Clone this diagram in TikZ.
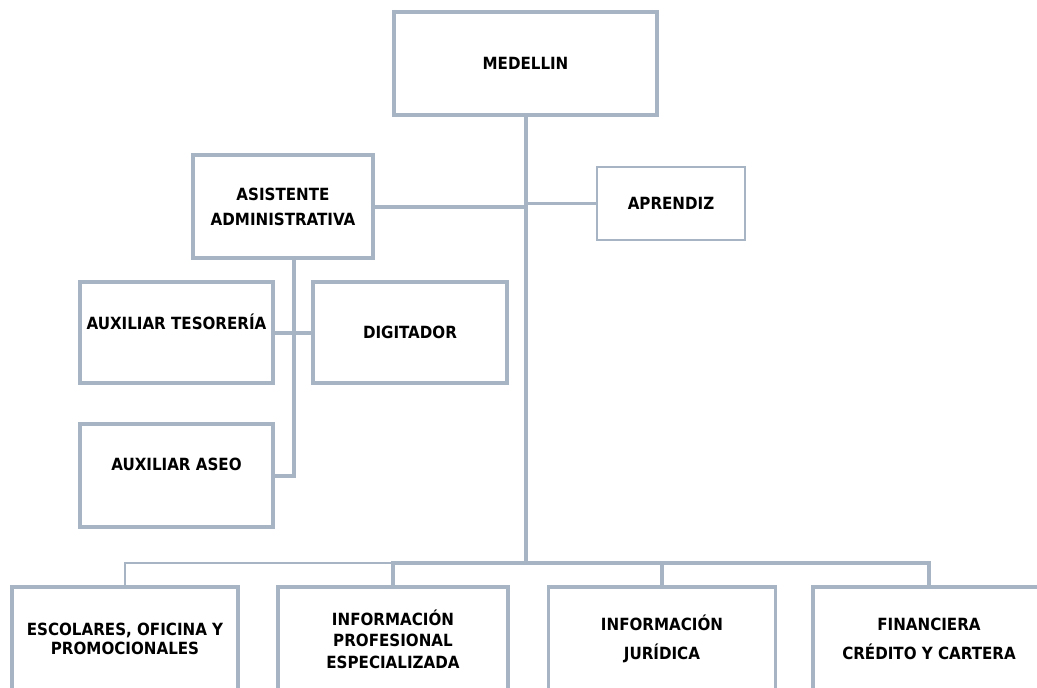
\documentclass[tikz,border=0pt]{standalone}
\usepackage{fontspec}
\setmainfont{DejaVu Sans Condensed}
\usetikzlibrary{calc}
\definecolor{lc}{HTML}{A6B4C4}
\begin{document}
\begin{tikzpicture}[x=0.75pt,y=-0.75pt,
  box/.style={draw=lc,line width=2.8pt,fill=white,inner sep=0pt,align=center,
    font=\fontsize{12.6}{15}\selectfont\bfseries},
  lbl/.style={inner sep=0pt,align=center,font=\fontsize{12.6}{15}\selectfont\bfseries},
  conn/.style={draw=lc,line width=3pt},
  thinconn/.style={draw=lc,line width=1.6pt}]
\useasboundingbox (0,0) rectangle (1037,687);
\clip (0,0) rectangle (1037,687);
% boxes
\node[box,minimum width={263*0.75pt},minimum height={103*0.75pt}] (med) at (525.5,63.5) {MEDELLIN};
\node[box,minimum width={180*0.75pt},minimum height={103*0.75pt}] (asis) at (283,206.5) {ASISTENTE\\[3.75pt]ADMINISTRATIVA};
\node[box,line width=1.6pt,minimum width={148*0.75pt},minimum height={73*0.75pt}] (apr) at (671,203.5) {APRENDIZ};
\node[box,minimum width={193*0.75pt},minimum height={101*0.75pt}] (tes) at (176.5,332.5) {};
\node[lbl] (testxt) at (176.5,322) {AUXILIAR TESORERÍA};
\node[box,minimum width={194*0.75pt},minimum height={101*0.75pt}] (dig) at (410,332.5) {DIGITADOR};
\node[box,minimum width={193*0.75pt},minimum height={103*0.75pt}] (aseo) at (176.5,475.5) {};
\node[lbl] (aseotxt) at (176.5,464) {AUXILIAR ASEO};
\node[box,minimum width={226*0.75pt},minimum height={104*0.75pt}] (esc) at (125,639) {ESCOLARES, OFICINA Y\\[-0.75pt]PROMOCIONALES};
\node[box,minimum width={230*0.75pt},minimum height={104*0.75pt}] (prof) at (393,639) {INFORMACIÓN\\[1pt]PROFESIONAL\\[1pt]ESPECIALIZADA};
\node[box,minimum width={227*0.75pt},minimum height={104*0.75pt}] (jur) at (662,639) {INFORMACIÓN\\[6.75pt]JURÍDICA};
\node[box,minimum width={232*0.75pt},minimum height={104*0.75pt}] (fin) at (929,639) {FINANCIERA\\[6.75pt]CRÉDITO Y CARTERA};
% connectors
\coordinate (busP) at ($(prof.north)+(0,-22)$);
\draw[conn] (med.south) -- (med.south |- busP);
\draw[conn] (asis.east) -- (asis.east -| med.south);
\draw[thinconn] (apr.west) -- (apr.west -| med.south);
\coordinate (av) at ($(asis.south)+(11,0)$);
\draw[conn] (av) -- (av |- aseo.east) -- (aseo.east);
\draw[conn] (tes.east) -- (dig.west);
\draw[thinconn] (esc.north) |- (busP);
\draw[conn] (prof.north) -- (busP) -| (fin.north);
\draw[conn] (jur.north) -- (jur.north |- busP);
\end{tikzpicture}
\end{document}
